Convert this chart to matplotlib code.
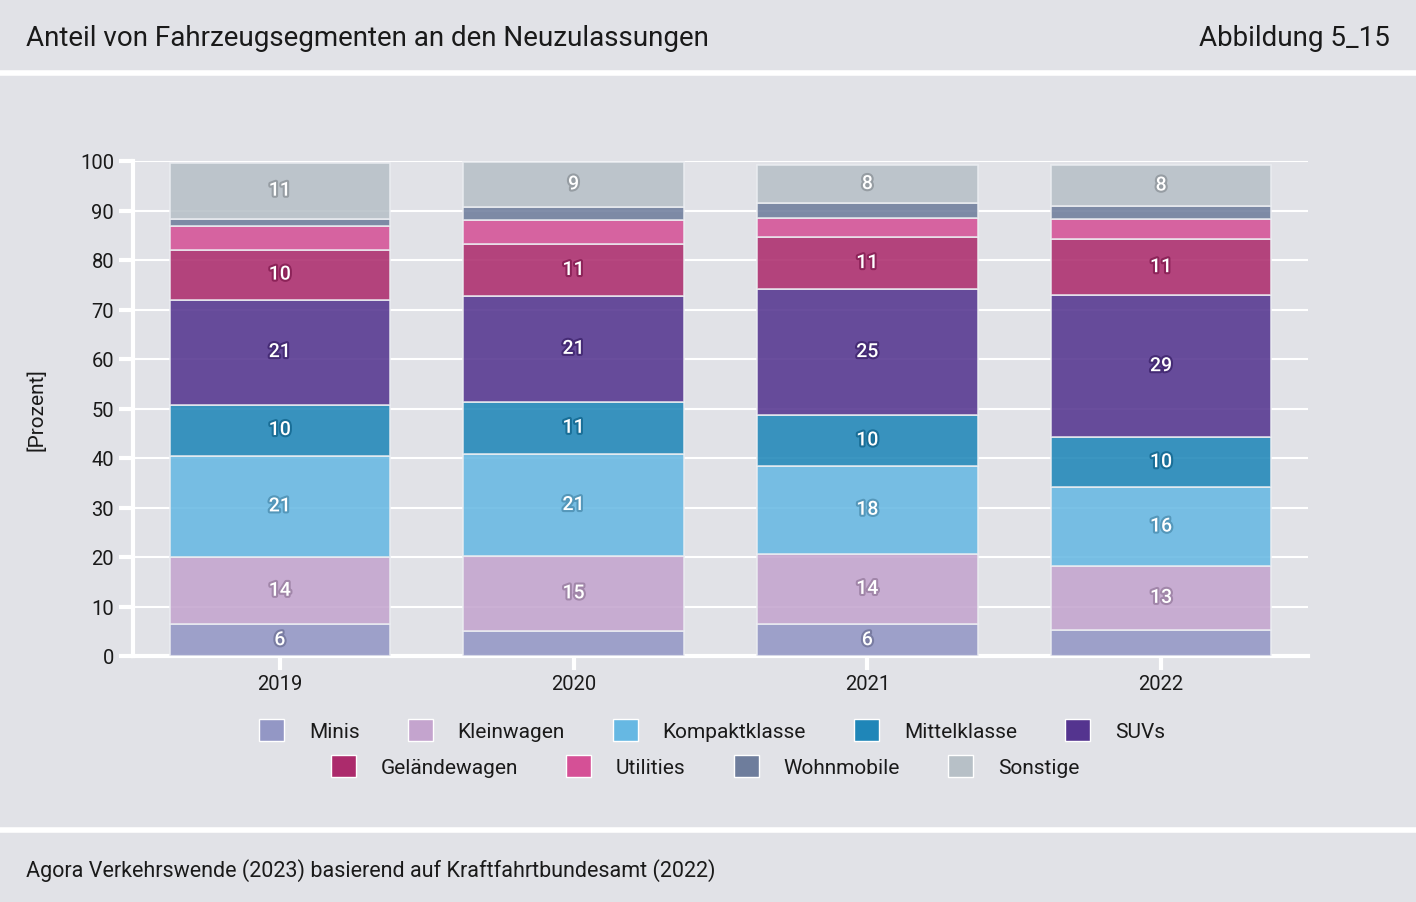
import numpy as np
import matplotlib.pyplot as plt
import matplotlib.patheffects as pe
from matplotlib.patches import Patch
from matplotlib.colors import to_rgb

plt.rcParams['font.family'] = ['Roboto', 'DejaVu Sans']

years = ["2019", "2020", "2021", "2022"]
segments = ["Minis", "Kleinwagen", "Kompaktklasse", "Mittelklasse", "SUVs",
            "Geländewagen", "Utilities", "Wohnmobile", "Sonstige"]
minis = [6.4, 5.1, 6.4, 5.3]
kleinwagen = [13.55, 15.1, 14.3, 12.9]
kompakt = [20.55, 20.6, 17.7, 15.9]
mittel = [10.3, 10.6, 10.3, 10.1]
suvs = [21.2, 21.3, 25.4, 28.7]
gelaende = [10.1, 10.55, 10.55, 11.3]
utilities = [4.85, 4.85, 3.85, 4.1]
wohnmobile = [1.4, 2.6, 3.0, 2.6]
sonstige = [11.3, 9.1, 7.7, 8.3]
series = [minis, kleinwagen, kompakt, mittel, suvs, gelaende, utilities, wohnmobile, sonstige]

colors = ["#9397c5", "#c4a4ce", "#66b8e3", "#1f86b8", "#54348f",
          "#ac2b6c", "#d55096", "#6e7d9c", "#b7c0c7"]

bg = "#e1e2e7"
txt = "#1a1a1a"
fig = plt.figure(figsize=(14.16, 9.03), dpi=100, facecolor=bg)
ax = fig.add_axes([133 / 1416, 1 - 657 / 903, (1308 - 133) / 1416, (657 - 162) / 903])
ax.set_facecolor(bg)

x = np.arange(len(years))
bottom = np.zeros(len(years))
for name, vals, c in zip(segments, series, colors):
    vals = np.array(vals)
    ax.bar(x, vals, 0.75, bottom=bottom, color=c, alpha=0.87,
           edgecolor="#eceef2", linewidth=1.2, zorder=3)
    dark = tuple(v * 0.82 for v in to_rgb(c))
    for xi, b, v in zip(x, bottom, vals):
        if v >= 6:
            ax.text(xi, b + v / 2, f"{v:.0f}", ha="center", va="center",
                    color="white", fontsize=14, fontweight="medium", zorder=5,
                    path_effects=[pe.withStroke(linewidth=3, foreground=dark)])
    bottom += vals

ax.set_xlim(-0.5, 3.5)
ax.set_ylim(0, 100)
ax.set_yticks(range(0, 101, 10))
ax.set_xticks(x)
ax.set_xticklabels(years)
ax.tick_params(axis="both", colors="white", labelcolor=txt, labelsize=14.5,
               width=3, length=10)
ax.tick_params(axis="x", pad=3)
ax.grid(axis="y", color="white", linewidth=1.5, zorder=0)
for s in ["top", "right"]:
    ax.spines[s].set_visible(False)
for s in ["left", "bottom"]:
    ax.spines[s].set_color("white")
    ax.spines[s].set_linewidth(3)
ax.set_ylabel("[Prozent]", fontsize=15, color=txt, labelpad=24)

# legends
h1 = [Patch(facecolor=colors[i], edgecolor="white", linewidth=1) for i in range(5)]
h2 = [Patch(facecolor=colors[i], edgecolor="white", linewidth=1) for i in range(5, 9)]
kw = dict(frameon=False, fontsize=15, handlelength=1.2, handleheight=1.2,
          handletextpad=1.2, columnspacing=2.3, labelcolor=txt)
fig.legend(h1, segments[:5], ncol=5, loc="center", bbox_to_anchor=(712 / 1416, 1 - 731 / 903), **kw)
fig.legend(h2, segments[5:], ncol=4, loc="center", bbox_to_anchor=(705 / 1416, 1 - 767 / 903), **kw)

# header / footer
fig.text(26 / 1416, 1 - 38 / 903, "Anteil von Fahrzeugsegmenten an den Neuzulassungen",
         fontsize=20, va="center", ha="left", color=txt)
fig.text(1390 / 1416, 1 - 38 / 903, "Abbildung 5_15", fontsize=20, va="center", ha="right",
         color=txt)
fig.text(26 / 1416, 1 - 871 / 903, "Agora Verkehrswende (2023) basierend auf Kraftfahrtbundesamt (2022)",
         fontsize=15.5, va="center", ha="left", color=txt)
fig.add_artist(plt.Line2D([0, 1], [1 - 74 / 903] * 2, color="white", linewidth=4))
fig.add_artist(plt.Line2D([0, 1], [1 - 831 / 903] * 2, color="white", linewidth=4))

fig.savefig("out.png", dpi=100, facecolor=bg)
